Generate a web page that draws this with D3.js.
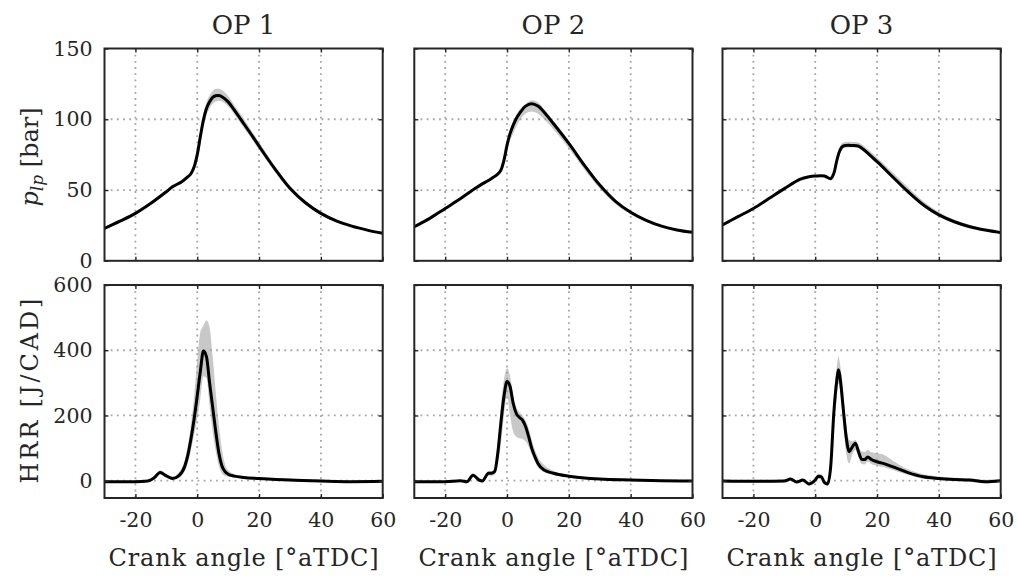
<!DOCTYPE html>
<html><head><meta charset="utf-8">
<script src="https://cdn.jsdelivr.net/npm/d3@7"></script>
<style>
body{margin:0;background:#fff}
text{font-family:"DejaVu Serif",serif;fill:#262626}
</style>
</head><body>
<svg id="c" width="1018" height="576"></svg>
<script>
// ---------- data ----------
const titles = ["OP 1", "OP 2", "OP 3"];
const xTickVals = [-20, 0, 20, 40, 60];
const xGridVals = [-20, 0, 20, 40];
const pTickVals = [0, 50, 100, 150];
const hTickVals = [0, 200, 400, 600];

// Pressure (bar)
const p1x = [-30,-25,-20,-15,-10,-8,-5,-3,-2,-1,0,1,2,3,4,5,6,7,8,10,12,15,18,20,25,30,35,40,45,50,55,60];
const p1m = [22.9,28,33.5,40.6,48.8,52.3,55.9,59.4,61.7,66.4,75,87.6,99.4,107.6,112.3,115.4,116.6,116.8,115.9,112.3,106.4,97,87.6,81,65.3,51.2,41,33.5,28.2,24.5,21.7,19.4];
const p1hi = [23.8,29,34.5,41.5,49.8,53.3,57,60.5,63,69,80,93,104,112,117,120,121.5,121.5,120.5,116.5,110,100.5,90.5,84,67.5,53,42.4,34.8,29.2,25.3,22.4,20];
const p1lo = [22,27,32.5,39.7,47.8,51.3,54.8,58.3,60.3,63.8,70,82,95,103,108,111,112.5,113,112.5,109,103.5,94,85,78.5,63.5,49.5,39.7,32.3,27.2,23.7,21,18.8];

const p2x = [-30,-25,-20,-15,-10,-5,-3,-2,-1,0,1,2,3,4,6,8,10,12,15,20,25,30,35,40,45,50,55,60];
const p2m = [24.1,30,37,44,51.6,58.2,61.3,64,71,81.7,90,95.9,100.6,104,109.3,111,109.3,105,97,82.9,67.6,53.5,42.2,34.3,28.6,24.5,21.8,20.1];
const p2hi = [24.6,30.6,37.6,44.6,52.2,58.8,62,65.5,74,85,93,98.5,103,106.5,111,113.5,112,107,99,84.5,69,54.5,43,34.8,29.1,25,22.1,20.4];
const p2lo = [23.6,29.4,36.4,43.4,51,57.6,60.6,63,68,77,85,90,95,99,104,105.5,104,100,93,79.5,64.5,51,40.3,32.8,27.8,24,21.5,19.8];

const p3x = [-30,-25,-20,-15,-10,-5,-2,0,3,5,6,7,8,9,12,14,20,25,30,35,40,45,50,55,60];
const p3m = [25.3,31.2,37,44,51,57.5,59.4,59.9,59.9,58,61.7,71,78,81,81.5,81,70,59.4,48.8,39.4,32.4,27.6,24.1,21.7,19.9];
const p3hi = [25.8,31.7,37.5,44.5,51.5,58,60,60.5,60.5,59,64,74,81,83.5,84,83.5,73,62.5,52,42,34.5,29,25.5,22.5,20.5];
const p3lo = [24.8,30.7,36.5,43.5,50.5,57,58.8,59.3,59.3,57,60.5,69,76,79.5,80,79.5,68.5,58,47.5,38.5,31.5,26.5,23.3,21,19.5];

// Heat release rate (J/CAD)
const h1x = [-30,-20,-16,-14,-12,-10,-8,-6,-4,-3,-2,-1,0,1,2,3,4,5,6,7,8,9,10,12,15,20,30,40,50,60];
const h1m = [-3,-3,-1,8,25,15,7,15,45,80,130,190,260,335,398,380,300,225,150,85,45,28,20,14,10,7,2,-1,-3,-2];
const h1hi = [0,0,2,12,32,20,12,25,65,110,175,260,370,455,475,492,470,380,270,170,95,50,32,20,14,10,6,3,1,2];
const h1lo = [-6,-6,-4,4,20,10,3,8,30,55,95,140,190,250,320,315,230,150,90,45,22,15,12,10,7,4,-2,-4,-6,-5];

const h2x = [-30,-20,-15,-13,-11,-9,-8,-6,-5,-4,-3,-2,-1,0,1,2,3,4,5,6,7,8,9,10,12,15,20,30,40,50,60];
const h2m = [-3,-3,0,-3,17,2,-1,23,23,28,84,176,258,304,288,237,206,194,186,166,135,99,74,53,33,23,14,5,2,0,-1];
const h2hi = [0,0,3,2,22,8,5,30,30,35,120,230,310,345,320,260,225,210,200,185,160,125,95,72,48,30,18,8,4,2,1];
const h2lo = [-6,-6,-3,-6,12,-3,-5,15,15,18,50,110,200,260,200,150,135,130,128,120,105,80,60,42,26,18,10,2,-1,-3,-3];

const h3x = [-30,-20,-10,-8,-6,-4,-2,0,1,2,3,4,5,6,7,7.5,8,9,10,11,12,13,14,15,16,17,18,20,22,25,30,35,40,45,50,55,60];
const h3m = [-1,-2,-1,5,-4,2,-10,2,14,12,-6,-10,43,206,309,340,319,227,135,89,104,115,89,66,65,73,66,58,53,43,25,12,7,4,2,-3,0];
const h3hi = [3,2,3,9,0,6,-4,8,22,20,2,-2,80,260,350,380,360,280,175,125,122,125,105,90,88,94,88,84,80,62,35,20,13,9,7,3,5];
const h3lo = [-5,-6,-5,1,-8,-2,-16,-4,6,4,-12,-16,20,150,260,298,280,180,85,53,80,95,72,52,50,58,52,46,42,33,18,6,2,-1,-3,-8,-4];

const pSeries = [[p1x,p1m,p1hi,p1lo],[p2x,p2m,p2hi,p2lo],[p3x,p3m,p3hi,p3lo]];
const hSeries = [[h1x,h1m,h1hi,h1lo],[h2x,h2m,h2hi,h2lo],[h3x,h3m,h3hi,h3lo]];

// ---------- layout ----------
const svg = d3.select("#c");
const colL = [104.5, 414.3, 722.5];
const pw = 278.2;
const rows = [
  {top: 48.5, bot: 260.8, domain: [0,150], ticks: pTickVals, grid: [50,100], series: pSeries, curve: d3.curveCatmullRom.alpha(0.5)},
  {top: 285, bot: 498, domain: [-53,600], ticks: hTickVals, grid: [0,200,400], series: hSeries, curve: d3.curveMonotoneX}
];
const frameCol = "#262626";
let clipId = 0;
const fmt = d => String(d);

rows.forEach((row, ri) => {
  colL.forEach((L, ci) => {
    const x = d3.scaleLinear().domain([-30,60]).range([L, L+pw]);
    const y = d3.scaleLinear().domain(row.domain).range([row.bot, row.top]);
    const g = svg.append("g");
    const id = "clip" + (clipId++);
    svg.append("clipPath").attr("id", id).append("rect")
      .attr("x", L).attr("y", row.top).attr("width", pw).attr("height", row.bot-row.top);

    const [xs, m, hi, lo] = row.series[ci];
    const pts = xs.map((v,i)=>({x:v, m:m[i], hi:hi[i], lo:lo[i]}));
    const plot = g.append("g").attr("clip-path", `url(#${id})`);

    plot.append("path").datum(pts)
      .attr("fill", "#c8c8c8")
      .attr("d", d3.area().x(d=>x(d.x)).y0(d=>y(d.lo)).y1(d=>y(d.hi)).curve(row.curve));

    // grid
    const gridStyle = s => s.attr("stroke", "#a6a6a6").attr("stroke-width", 1.8)
      .attr("stroke-dasharray", "1.8,4.4");
    xGridVals.forEach(v => plot.append("line")
      .attr("x1", x(v)).attr("x2", x(v)).attr("y1", row.top).attr("y2", row.bot).call(gridStyle));
    row.grid.forEach(v => plot.append("line")
      .attr("x1", L).attr("x2", L+pw).attr("y1", y(v)).attr("y2", y(v)).call(gridStyle));

    plot.append("path").datum(pts)
      .attr("fill", "none").attr("stroke", "#000").attr("stroke-width", 3)
      .attr("stroke-linejoin", "round")
      .attr("d", d3.line().x(d=>x(d.x)).y(d=>y(d.m)).curve(row.curve));

    // axes (inward ticks, all four sides)
    const styleAxis = a => {
      a.select(".domain").remove();
      a.selectAll("line").attr("stroke", frameCol).attr("stroke-width", 1.4);
    };
    const bx = g.append("g").attr("transform", `translate(0,${row.bot})`)
      .call(d3.axisBottom(x).tickValues(xTickVals).tickSizeInner(-4).tickSizeOuter(0).tickPadding(ri===1?14:0)
        .tickFormat(ri===1 ? fmt : ""));
    styleAxis(bx);
    bx.selectAll("text").attr("font-size", 20.5).attr("fill", frameCol).attr("font-family", '"DejaVu Serif",serif');
    const tx = g.append("g").attr("transform", `translate(0,${row.top})`)
      .call(d3.axisTop(x).tickValues(xTickVals).tickSizeInner(-4).tickSizeOuter(0).tickFormat(""));
    styleAxis(tx);
    const ly = g.append("g").attr("transform", `translate(${L},0)`)
      .call(d3.axisLeft(y).tickValues(row.ticks).tickSizeInner(-4).tickSizeOuter(0).tickPadding(12)
        .tickFormat(ci===0 ? fmt : ""));
    styleAxis(ly);
    ly.selectAll("text").attr("font-size", 20.5).attr("fill", frameCol).attr("font-family", '"DejaVu Serif",serif');
    const ry = g.append("g").attr("transform", `translate(${L+pw},0)`)
      .call(d3.axisRight(y).tickValues(row.ticks).tickSizeInner(-4).tickSizeOuter(0).tickFormat(""));
    styleAxis(ry);

    g.append("rect").attr("x", L).attr("y", row.top).attr("width", pw).attr("height", row.bot-row.top)
      .attr("fill", "none").attr("stroke", frameCol).attr("stroke-width", 2);

    if (ri === 0) {
      svg.append("text").attr("x", L+pw/2).attr("y", 34).attr("text-anchor", "middle")
        .attr("font-size", 26).text(titles[ci]);
    } else {
      svg.append("text").attr("x", L+pw/2).attr("y", 566).attr("text-anchor", "middle")
        .attr("font-size", 24).attr("textLength", 270).attr("lengthAdjust", "spacing")
        .text("Crank angle [°aTDC]");
    }
  });
});

// y labels
const yl1 = svg.append("text").attr("transform", "translate(38,157) rotate(-90)")
  .attr("text-anchor", "middle").attr("font-size", 24);
yl1.append("tspan").attr("font-style", "italic").text("p");
yl1.append("tspan").attr("font-style", "italic").attr("font-size", 17).attr("dy", 5).text("lp");
yl1.append("tspan").attr("dy", -5).text(" [bar]");

svg.append("text").attr("transform", "translate(38,391) rotate(-90)")
  .attr("text-anchor", "middle").attr("font-size", 24)
  .attr("textLength", 185).attr("lengthAdjust", "spacing")
  .text("HRR [J/CAD]");
</script>
</body></html>
